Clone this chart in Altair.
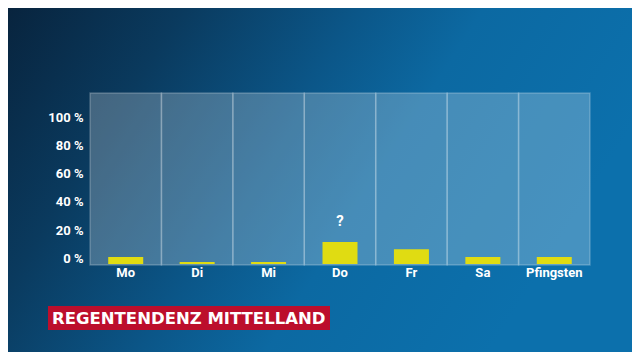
import altair as alt
import pandas as pd

# ---- data ----
days = ["Mo", "Di", "Mi", "Do", "Fr", "Sa", "Pfingsten"]
rain = [5, 1.5, 1.5, 15.5, 10.5, 5, 5]
notes = ["", "", "", "?", "", "", ""]
y_ticks = [0, 20, 40, 60, 80, 100]
title_text = "REGENTENDENZ MITTELLAND"

df = pd.DataFrame({"day": days, "rain": rain, "note": notes})
one = pd.DataFrame({"t": [title_text]})

W, H = 500, 171
PAD = {"left": 82, "top": 85, "right": 42, "bottom": 88}
FONT = "Roboto"

x_enc = alt.X(
    "day:N",
    sort=days,
    scale=alt.Scale(paddingInner=0, paddingOuter=0),
    axis=alt.Axis(
        title=None, domain=False, ticks=False, tickSize=0, labelAngle=0,
        labelColor="#ffffff", labelFontSize=13, labelFontWeight="bold",
        labelFont=FONT, labelPadding=2, grid=False, zindex=1,
    ),
)
y_scale = alt.Scale(domain=[0, 121], nice=False, zero=True)
y_axis = alt.Axis(
    title=None, values=y_ticks, labelExpr="datum.value + ' %'",
    domain=False, ticks=False, tickSize=0, grid=False,
    labelColor="#ffffff", labelFontSize=13, labelFontWeight="bold",
    labelFont=FONT, labelPadding=7, labelOffset=-5.5, zindex=1,
)

gradient = {
    "gradient": "linear",
    "x1": 0, "y1": 0, "x2": 1, "y2": 0.35,
    "stops": [
        {"offset": 0.0, "color": "#08243e"},
        {"offset": 0.25, "color": "#0a3a5e"},
        {"offset": 0.5, "color": "#0b5688"},
        {"offset": 0.68, "color": "#0c69a2"},
        {"offset": 1.0, "color": "#0c70ac"},
    ],
}

background = alt.Chart(one).mark_rect(fill=gradient).encode(
    x=alt.value(-PAD["left"]), x2=alt.value(W + PAD["right"]),
    y=alt.value(-PAD["top"]), y2=alt.value(H + PAD["bottom"]),
)

panels = alt.Chart(df).mark_rect(
    fill="#ffffff", fillOpacity=0.24,
    stroke="#ffffff", strokeOpacity=0.22, strokeWidth=1.5,
).encode(
    x=x_enc,
    y=alt.value(0), y2=alt.value(H + 1),
)

bars = alt.Chart(df).mark_bar(size=35, color="#e0dc12").encode(
    x=x_enc,
    y=alt.Y("rain:Q", scale=y_scale, axis=y_axis),
)

qmark = alt.Chart(df).mark_text(
    color="#ffffff", fontSize=15, fontWeight="bold", font=FONT,
    baseline="middle", dy=-21,
).encode(
    x=x_enc,
    y=alt.Y("rain:Q", scale=y_scale, axis=y_axis),
    text="note:N",
)

title_box = alt.Chart(one).mark_rect(color="#bc0e2c").encode(
    x=alt.value(-42), x2=alt.value(240),
    y=alt.value(213), y2=alt.value(237),
)

title = alt.Chart(one).mark_text(
    color="#ffffff", fontSize=16.5, fontWeight="bold", font="DejaVu Sans",
    align="left", baseline="middle",
).encode(
    x=alt.value(-38), y=alt.value(225.5), text="t:N",
)

chart = alt.layer(background, panels, bars, qmark, title_box, title).properties(
    width=W, height=H,
    autosize=alt.AutoSizeParams(type="none"),
    padding=PAD,
    background="#0c6ea8",
).configure_view(stroke=None)

chart.save("out.html", embed_options={"renderer": "svg", "actions": False})
